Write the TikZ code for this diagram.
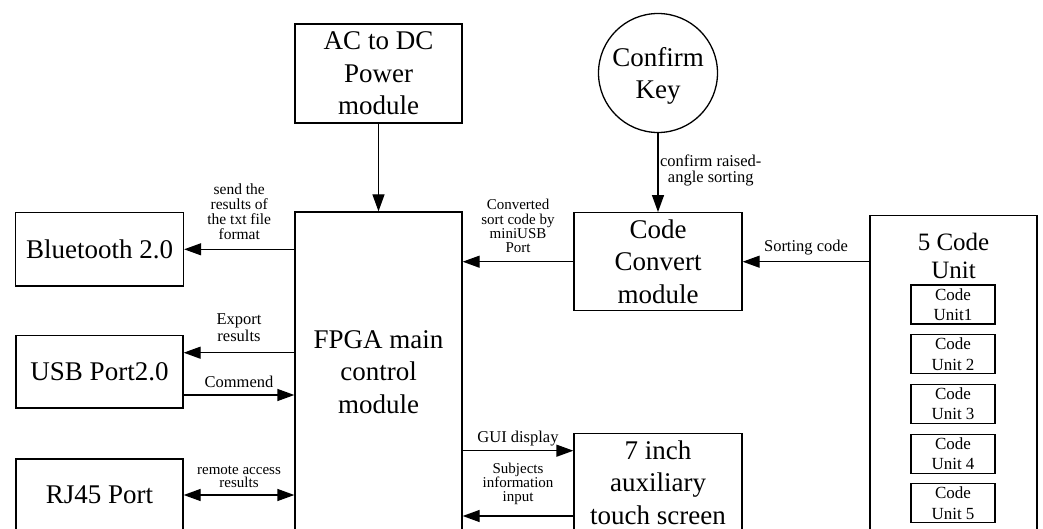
\documentclass[tikz,border=0pt]{standalone}
\usepackage{fontspec}
\setmainfont{Liberation Serif}
\usetikzlibrary{arrows.meta,calc}
\begin{document}
\begin{tikzpicture}[x=1pt,y=-1pt,
  box/.style={draw, line width=1.3pt, rectangle, inner sep=0pt, align=center,
    font=\fontsize{27}{32.5}\selectfont},
  unitbox/.style={draw, line width=1.2pt, rectangle, inner sep=0pt, align=center,
    minimum width=84pt, minimum height=39pt, font=\fontsize{17}{20.5}\selectfont},
  arr/.style={line width=1.3pt, -{Triangle[length=17pt,width=12pt]}},
  darr/.style={line width=1.3pt, {Triangle[length=17pt,width=12pt]}-{Triangle[length=17pt,width=12pt]}},
  lbl/.style={inner sep=0pt, align=center, font=\fontsize{15.5}{15}\selectfont},
  lblbig/.style={inner sep=0pt, align=center, font=\fontsize{16.5}{16.5}\selectfont}
]
\useasboundingbox (0,0) rectangle (1043,529);
\clip (0,0) rectangle (1043,529);

% main boxes
\node[box, minimum width=167pt, minimum height=99pt] (ac) at (378.5,73.5) {AC to DC\\Power\\module};
\node[box, minimum width=167pt, minimum height=320pt] (fpga) at (378.5,372) {FPGA main\\control\\module};
\node[box, minimum width=168pt, minimum height=73.3pt] (bt) at (99.5,249.3) {Bluetooth 2.0};
\node[box, minimum width=167pt, minimum height=72.3pt] (usb) at (99.5,371.9) {USB Port2.0};
\node[box, minimum width=167pt, minimum height=72pt] (rj) at (99.5,495) {RJ45 Port};
\node[box, circle, minimum size=119pt, text depth=0pt] (key) at (658,73) {Confirm\\Key};
\node[box, minimum width=168pt, minimum height=98pt] (cc) at (658,261.7) {Code\\Convert\\module};
\node[box, minimum width=168pt, minimum height=98.4pt] (touch) at (658,482.5) {7 inch\\auxiliary\\touch screen};

% code unit group
\node[draw, line width=1.3pt, minimum width=167pt, minimum height=330pt, anchor=north, inner sep=0pt] (cu) at (953.5,215) {};
\node[inner sep=0pt, align=center, font=\fontsize{25}{28}\selectfont] (cutitle) at (953.5,255.5) {5 Code\\Unit};
\node[unitbox] (u1) at (953,304.5) {Code\\Unit1};
\node[unitbox] (u2) at (953,354.1) {Code\\Unit 2};
\node[unitbox] (u3) at (953,403.8) {Code\\Unit 3};
\node[unitbox] (u4) at (953,453.8) {Code\\Unit 4};
\node[unitbox] (u5) at (953,503.3) {Code\\Unit 5};

% connectors
\draw[arr] (ac) -- (fpga);
\draw[arr] (fpga.west |- bt.east) -- node[lbl, above=9pt] {send the\\results of\\the txt file\\format} (bt.east);

\coordinate (ue1) at ([yshift=19.2pt]usb.east);
\coordinate (ue2) at ([yshift=-23.1pt]usb.east);
\draw[arr] (fpga.west |- ue1) -- node[lblbig, above=10.5pt] {Export\\results} (ue1);
\draw[arr] (ue2) -- node[lblbig, above=6.7pt] {Commend} (fpga.west |- ue2);

\draw[darr] (rj.east) -- node[lbl, above=6.4pt, font=\fontsize{15}{13.5}\selectfont] {remote access\\results} (fpga.west |- rj.east);

\draw[arr] (cc.west) -- node[lbl, above=8pt, font=\fontsize{15}{14.4}\selectfont] {Converted\\sort code by\\miniUSB\\Port} (fpga.east |- cc.west);
\draw[arr] (cu.west |- cc.east) -- node[lblbig, above=6pt] {Sorting code} (cc.east);
\draw[arr] (key) -- node[lblbig, anchor=west, xshift=1.5pt, yshift=2pt, font=\fontsize{16.5}{16}\selectfont] {confirm raised-\\angle sorting} (cc);

\coordinate (t1) at ([yshift=31.8pt]touch.west);
\coordinate (t2) at ([yshift=-33.5pt]touch.west);
\draw[arr] (fpga.east |- t1) -- node[lblbig, above=4.4pt] {GUI display} (t1);
\draw[arr] (t2) -- node[lbl, above=11pt, font=\fontsize{15}{14}\selectfont] {Subjects\\information\\input} (fpga.east |- t2);
\end{tikzpicture}
\end{document}
